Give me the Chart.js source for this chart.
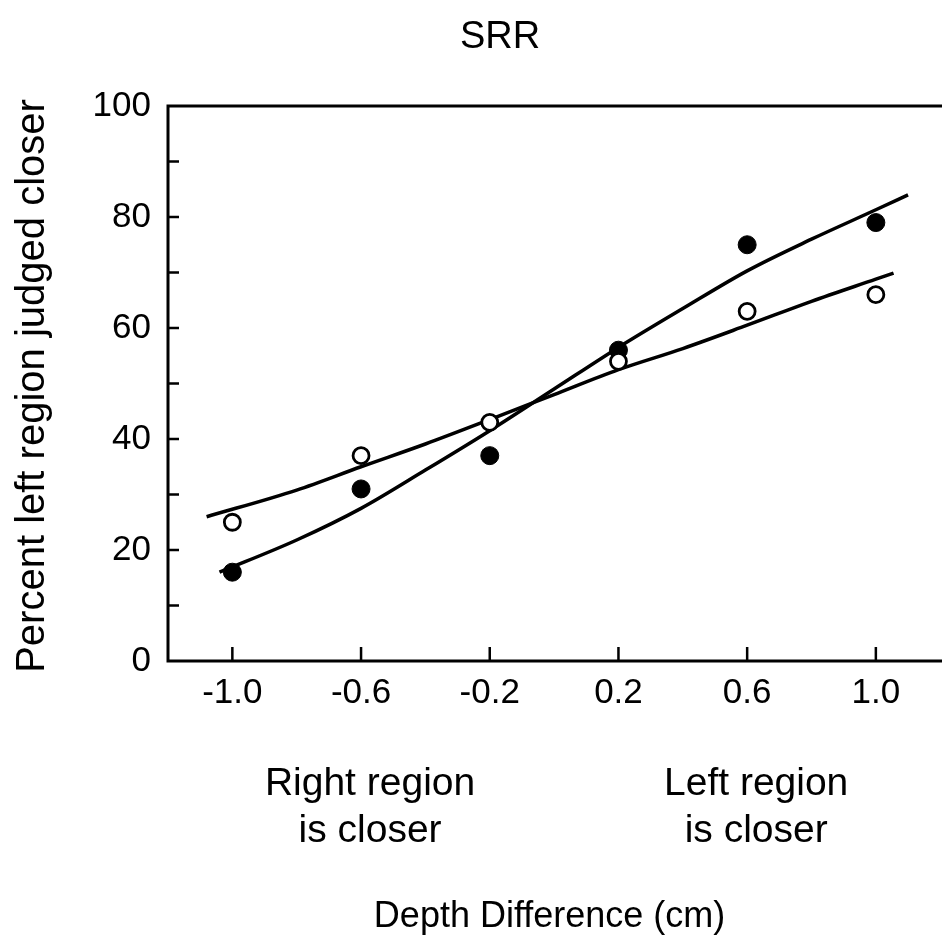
<!DOCTYPE html>
<html>
<head>
<meta charset="utf-8">
<script src="https://cdn.jsdelivr.net/npm/chart.js@4.4.1/dist/chart.umd.min.js"></script>
<style>
html,body{margin:0;padding:0;background:#fff;}
#wrap{width:942px;height:947px;}
</style>
</head>
<body>
<div id="wrap"><canvas id="c" width="942" height="947"></canvas></div>
<script>
// ---- data ----
const chartTitle = "SRR";
const xAxisTitle = "Depth Difference (cm)";
const yAxisTitle = "Percent left region judged closer";
const xCategories = [-1.0, -0.6, -0.2, 0.2, 0.6, 1.0];
const xTickLabels = ["-1.0", "-0.6", "-0.2", "0.2", "0.6", "1.0"];
const yTickValues = [0, 10, 20, 30, 40, 50, 60, 70, 80, 90, 100];
const yTickLabels = ["0", "", "20", "", "40", "", "60", "", "80", "", "100"];
const filledValues = [16, 31, 37, 56, 75, 79];
const openValues = [25, 37, 43, 54, 63, 66];
// fitted curves
const filledFitX = [-1.04, -0.8, -0.6, -0.4, -0.2, 0.0, 0.2, 0.4, 0.6, 0.8, 1.0, 1.1];
const filledFitY = [16, 21.8, 27.5, 34.4, 41.5, 49, 56.5, 63.5, 70.3, 76, 81.3, 84];
const openFitX = [-1.08, -0.8, -0.6, -0.4, -0.2, 0.0, 0.2, 0.4, 0.6, 0.8, 1.0, 1.055];
const openFitY = [26, 30.8, 35, 39.1, 43.5, 48, 52.5, 56.3, 60.5, 64.8, 68.8, 69.9];
const sideNotes = [
  {x: -0.6, lines: ["Right region", "is closer"]},
  {x: 0.6, lines: ["Left region", "is closer"]}
];

const FONT = "'Liberation Sans', Arial, Helvetica, sans-serif";
const toPts = (xs, ys) => xs.map((x, i) => ({x: x, y: ys[i]}));

const decor = {
  id: 'decor',
  afterDraw(chart) {
    const ctx = chart.ctx;
    const a = chart.chartArea;
    const xs = chart.scales.x, ys = chart.scales.y;
    ctx.save();
    ctx.strokeStyle = '#000';
    ctx.lineWidth = 3;
    ctx.lineCap = 'butt';
    // frame (right side runs off the picture)
    ctx.beginPath();
    ctx.moveTo(a.left, a.top); ctx.lineTo(chart.width, a.top);
    ctx.moveTo(a.left, a.top - 1.5); ctx.lineTo(a.left, a.bottom + 1.5);
    ctx.moveTo(a.left, a.bottom); ctx.lineTo(chart.width, a.bottom);
    ctx.stroke();
    // inward ticks
    ctx.lineWidth = 2.5;
    ctx.beginPath();
    xs.ticks.forEach(t => {
      const px = xs.getPixelForValue(t.value);
      ctx.moveTo(px, a.bottom); ctx.lineTo(px, a.bottom - 14);
    });
    ys.ticks.forEach(t => {
      const py = ys.getPixelForValue(t.value);
      if (t.value === 0 || t.value === 100) return;
      ctx.moveTo(a.left, py); ctx.lineTo(a.left + 11, py);
    });
    ctx.stroke();
    // title
    ctx.fillStyle = '#000';
    ctx.textAlign = 'center';
    ctx.textBaseline = 'middle';
    ctx.font = '38px ' + FONT;
    ctx.fillText(chartTitle, 500, 38);
    // side notes
    ctx.font = '39px ' + FONT;
    sideNotes.forEach(n => {
      const px = xs.getPixelForValue(n.x);
      n.lines.forEach((ln, i) => ctx.fillText(ln, px + 9, 784 + i * 47));
    });
    // x title
    ctx.font = '36px ' + FONT;
    ctx.fillText(xAxisTitle, (a.left + a.right) / 2, 917);
    // y title
    ctx.font = '40px ' + FONT;
    ctx.save();
    ctx.translate(33, 386);
    ctx.rotate(-Math.PI / 2);
    ctx.fillText(yAxisTitle, 0, 0);
    ctx.restore();
    ctx.restore();
  }
};

new Chart(document.getElementById('c'), {
  type: 'scatter',
  data: {
    datasets: [
      {
        type: 'line', label: 'filled fit', data: toPts(filledFitX, filledFitY),
        borderColor: '#000', borderWidth: 3.5, pointRadius: 0, fill: false,
        cubicInterpolationMode: 'monotone', order: 3
      },
      {
        type: 'line', label: 'open fit', data: toPts(openFitX, openFitY),
        borderColor: '#000', borderWidth: 3.5, pointRadius: 0, fill: false,
        cubicInterpolationMode: 'monotone', order: 3
      },
      {
        label: 'open', data: toPts(xCategories, openValues),
        pointRadius: 8, pointBorderWidth: 2.8, pointBorderColor: '#000',
        pointBackgroundColor: '#fff', order: 1
      },
      {
        label: 'filled', data: toPts(xCategories, filledValues),
        pointRadius: 9, pointBorderWidth: 1, pointBorderColor: '#000',
        pointBackgroundColor: '#000', order: 2
      }
    ]
  },
  options: {
    responsive: false,
    animation: false,
    layout: {padding: {top: 106, right: 1, left: 0, bottom: 0}},
    plugins: {legend: {display: false}, tooltip: {enabled: false}, title: {display: false}},
    scales: {
      x: {
        type: 'linear', min: -1.2, max: 1.172,
        afterBuildTicks: s => { s.ticks = xCategories.map(v => ({value: v})); },
        afterFit: s => { s.height = 286; s.paddingRight = 0; s.paddingLeft = 0; },
        grid: {display: false, drawTicks: false},
        border: {display: false},
        ticks: {
          color: '#000', font: {family: FONT, size: 35}, padding: 11,
          maxRotation: 0, autoSkip: false,
          callback: (v) => { const i = xCategories.indexOf(v); return i >= 0 ? xTickLabels[i] : ''; }
        }
      },
      y: {
        type: 'linear', min: 0, max: 100,
        afterBuildTicks: s => { s.ticks = yTickValues.map(v => ({value: v})); },
        afterFit: s => { s.width = 168; s.paddingTop = 0; s.paddingBottom = 0; },
        grid: {display: false, drawTicks: false},
        border: {display: false},
        ticks: {
          color: '#000', font: {family: FONT, size: 35}, padding: 17, autoSkip: false,
          callback: (v) => { const i = yTickValues.indexOf(v); return i >= 0 ? yTickLabels[i] : ''; }
        }
      }
    }
  },
  plugins: [decor]
});
</script>
</body>
</html>
